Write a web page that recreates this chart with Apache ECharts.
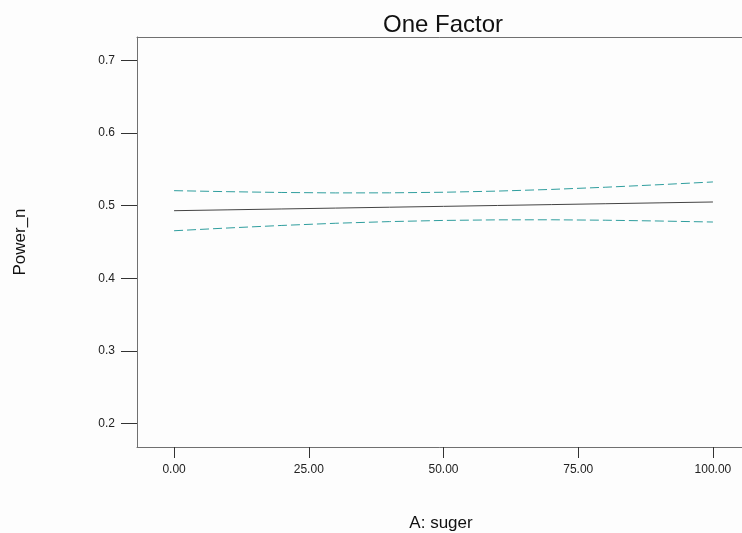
<!DOCTYPE html>
<html><head><meta charset="utf-8">
<script src="https://cdn.jsdelivr.net/npm/echarts@6/dist/echarts.min.js"></script>
<style>html,body{margin:0;padding:0;background:#fdfdfd}#c{width:742px;height:533px}</style>
</head><body><div id="c"></div>
<script>
const titleText = 'One Factor';
const xName = 'A: suger';
const yName = 'Power_n';
const xValues     = [0, 10, 20, 30, 40, 50, 60, 70, 80, 90, 100];
const meanValues  = [0.4931, 0.4943, 0.4955, 0.4967, 0.4979, 0.4991, 0.5003, 0.5015, 0.5027, 0.5039, 0.5051];
const upperValues = [0.5207, 0.5193, 0.5182, 0.5176, 0.5177, 0.5185, 0.5201, 0.5224, 0.5254, 0.5289, 0.5327];
const lowerValues = [0.4655, 0.4693, 0.4728, 0.4758, 0.4781, 0.4797, 0.4805, 0.4806, 0.4800, 0.4789, 0.4775];
const yTicks = [0.2, 0.3, 0.4, 0.5, 0.6, 0.7];
const xTicks = [0, 25, 50, 75, 100];

const pairs = (ys) => xValues.map((x, i) => [x, ys[i]]);
const FONT = 'Liberation Sans, Arial, sans-serif';
const chart = echarts.init(document.getElementById('c'), null, {renderer: 'canvas'});
chart.setOption({
  backgroundColor: '#fdfdfd',
  animation: false,
  title: {
    text: titleText, left: 438, top: 8, textAlign: 'center',
    textStyle: {fontFamily: FONT, fontSize: 24, fontWeight: 'normal', color: '#111'}
  },
  grid: {left: 137, right: -3, top: 37, bottom: 86, containLabel: false, outerBoundsMode: 'none'},
  xAxis: [{
    type: 'value', min: -6.88, max: 105.95, position: 'bottom',
    name: xName, nameLocation: 'middle', nameGap: 68,
    nameTextStyle: {fontFamily: FONT, fontSize: 17, color: '#111'},
    axisLine: {show: true, onZero: false, lineStyle: {color: '#707070', width: 1}},
    axisTick: {show: true, customValues: xTicks, length: 11, lineStyle: {color: '#333'}},
    axisLabel: {customValues: xTicks, margin: 17, fontFamily: FONT, fontSize: 12, color: '#222',
      formatter: v => v.toFixed(2)},
    splitLine: {show: false}
  }, {
    type: 'value', min: -6.88, max: 105.95, position: 'top',
    axisLine: {show: true, onZero: false, lineStyle: {color: '#707070', width: 1}},
    axisTick: {show: false}, axisLabel: {show: false}, splitLine: {show: false}
  }],
  yAxis: {
    type: 'value', min: 0.1677, max: 0.7323,
    name: yName, nameLocation: 'middle', nameGap: 108, nameRotate: 90,
    nameTextStyle: {fontFamily: FONT, fontSize: 17, color: '#111'},
    axisLine: {show: true, onZero: false, lineStyle: {color: '#707070', width: 1}},
    axisTick: {show: true, customValues: yTicks, length: 16, lineStyle: {color: '#333'}},
    axisLabel: {customValues: yTicks, margin: 22, fontFamily: FONT, fontSize: 12, color: '#222',
      formatter: v => v.toFixed(1)},
    splitLine: {show: false}
  },
  series: [
    {type: 'line', data: pairs(meanValues), showSymbol: false, lineStyle: {color: '#444', width: 1}},
    {type: 'line', data: pairs(upperValues), showSymbol: false, lineStyle: {color: '#2f9e9e', width: 1, type: [9, 4]}},
    {type: 'line', data: pairs(lowerValues), showSymbol: false, lineStyle: {color: '#2f9e9e', width: 1, type: [9, 4]}}
  ]
});
</script>
</body></html>
